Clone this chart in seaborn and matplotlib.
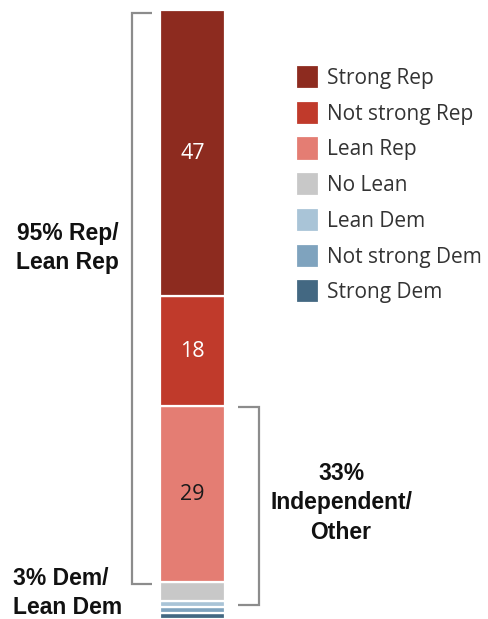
import numpy as np
import pandas as pd
import seaborn as sns
import matplotlib.pyplot as plt

# data
parties = ["Strong Rep", "Not strong Rep", "Lean Rep", "No Lean",
           "Lean Dem", "Not strong Dem", "Strong Dem"]
shares = [47, 18, 29, 3, 1, 1, 1]
colors = ["#8d2b1f", "#c03a2b", "#e47d73", "#c8c8c8",
          "#a9c4d7", "#7fa3be", "#436882"]
shown = ["47", "18", "29"]  # labels written inside the first three segments

sns.set_theme(style="white")
plt.rcParams["font.family"] = ["Open Sans", "DejaVu Sans"]

W, H = 488, 619
fig = plt.figure(figsize=(W / 100, H / 100), dpi=100)
ax = fig.add_axes([0, 0, 1, 1])

px = 6.09  # pixels per percent point
df = pd.DataFrame({"party": parties, "share": shares, "x": 192.5})
sns.histplot(data=df, x="x", weights="share", hue="party", hue_order=parties,
             palette=dict(zip(parties, colors)), multiple="stack",
             bins=[160, 225], alpha=1, edgecolor="white", linewidth=1.6,
             ax=ax)

ax.set_xlim(0, W)
ax.set_ylim(0, H / px)
ax.axis("off")

# numbers inside segments (stack goes top-down in party order)
total = sum(shares)
top = total
for i, lab in enumerate(shown):
    mid = top - shares[i] / 2
    ax.text(192.5, mid, lab, ha="center", va="center", fontsize=15.5,
            color="white" if i < 2 else "#1a1a1a")
    top -= shares[i]

# brackets
gray = "#8c8c8c"
rep_low = total - sum(shares[:3])          # bottom of Lean Rep
ind_top = total - sum(shares[:2])          # top of Lean Rep
ind_low = sum(shares[5:])                  # bottom of Lean Dem
ax.plot([152, 132, 132, 152], [total - 0.5, total - 0.5, rep_low - 0.2, rep_low - 0.2],
        color=gray, lw=1.6, solid_joinstyle="miter", solid_capstyle="butt")
ax.plot([238, 259, 259, 238], [ind_top - 0.2, ind_top - 0.2, ind_low + 0.3, ind_low + 0.3],
        color=gray, lw=1.6, solid_joinstyle="miter", solid_capstyle="butt")

bold = dict(fontsize=16.5, fontweight="bold", color="#111111",
            family=["Liberation Sans", "DejaVu Sans"], linespacing=1.35)
rep_sum = sum(shares[:3]) + 1
dem_sum = sum(shares[4:])
ind_sum = sum(shares[2:5])
ax.text(119, (H - 248) / px, f"{rep_sum}% Rep/\nLean Rep", ha="right",
        va="center", multialignment="right", **bold)
ax.text(13, (H - 593) / px, f"{dem_sum}% Dem/\nLean Dem", ha="left",
        va="center", multialignment="left", **bold)
ax.text(341, (H - 503) / px, f"{ind_sum}%\nIndependent/\nOther", ha="center",
        va="center", multialignment="center", **bold)

# legend
sns.move_legend(ax, loc="upper left", bbox_to_anchor=(296 / W, 1 - 65 / H),
                frameon=False, title=None, fontsize=15, borderpad=0,
                borderaxespad=0, handlelength=1.12, handleheight=1.4,
                labelspacing=0.56, handletextpad=0.38)
for t in ax.get_legend().get_texts():
    t.set_color("#333333")

fig.savefig("out.png", dpi=100)
